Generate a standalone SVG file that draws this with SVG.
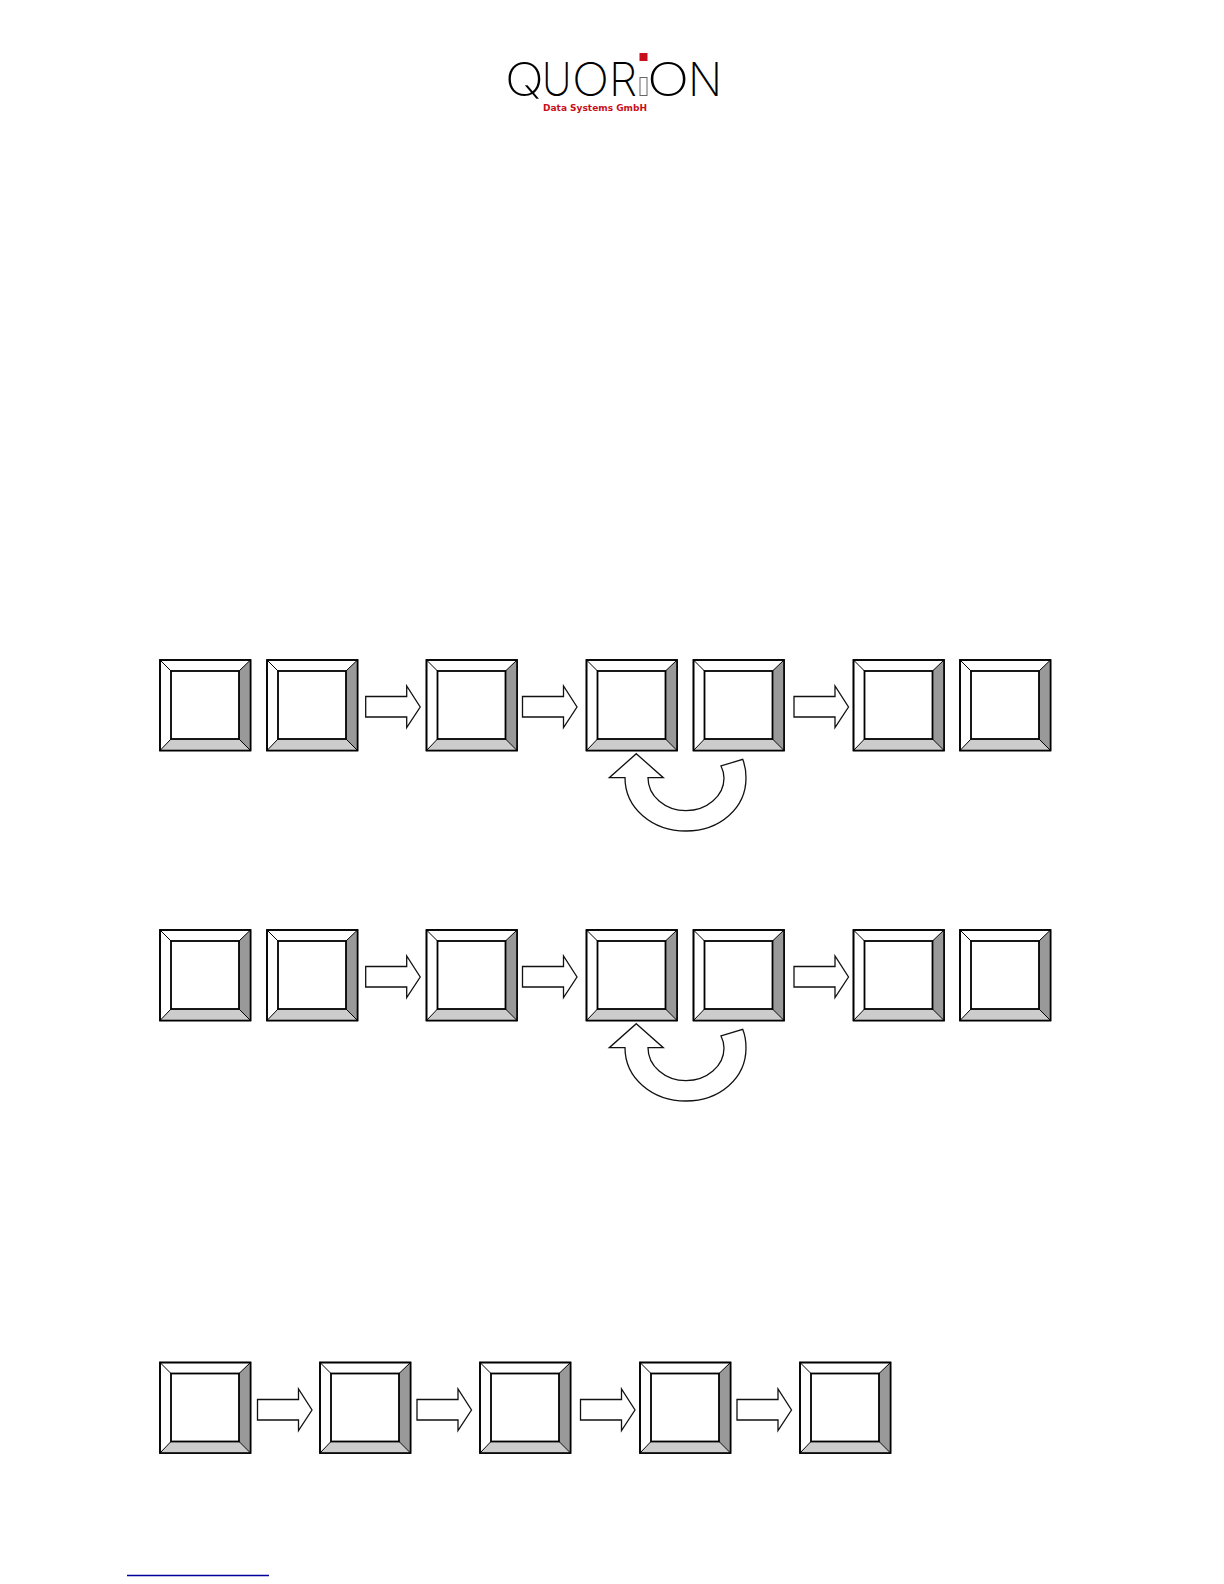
<svg xmlns="http://www.w3.org/2000/svg" xmlns:xlink="http://www.w3.org/1999/xlink" width="1224" height="1584" viewBox="0 0 1224 1584">
<style>
.o{fill:#fff;stroke:#000;stroke-width:1.6}
.i{fill:#fff;stroke:#000;stroke-width:1.8}
.d{stroke:#000;stroke-width:1;fill:none}
.a{fill:#fff;stroke:#111;stroke-width:1.3;stroke-linejoin:miter}
.logo{font-family:"Inter","Liberation Sans",sans-serif;font-weight:250;font-size:46px;fill:#000}
.sub{font-family:"DejaVu Sans","Liberation Sans",sans-serif;font-weight:700;font-size:9.5px;fill:#c8101c}
</style>
<defs>
<g id="key">
<rect class="o" x="0" y="0" width="90.5" height="90.5"/>
<polygon points="90.5,0 79,11 79,79 90.5,90.5" fill="#999"/>
<polygon points="0,90.5 11,79 79,79 90.5,90.5" fill="#ccc"/>
<rect x="0" y="0" width="90.5" height="90.5" fill="none" stroke="#000" stroke-width="1.6"/>
<path class="d" d="M0,0L11,11M90.5,0L79,11M0,90.5L11,79M90.5,90.5L79,79"/>
<rect class="i" x="11" y="11" width="68" height="68"/>
</g>
<polygon id="arr" class="a" points="0,10.5 41,10.5 41,0 54.5,21 41,41.5 41,31 0,31"/>
<path id="curve" class="a" d="M636.3,753.7L663.3,777.7L648,777.7C648,796 665,810.7 686,810.7C707,810.7 724,796 724,778C724,774 723,770 721,766L742.7,759.3C745,765 746,771 746,778C746,808 720,831 686,831C652,831 625,808 625,777.7L609.3,777.7Z"/>
</defs>
<g id="logo">
<text class="logo" transform="translate(505,96) scale(1.12,1)">Q</text>
<text class="logo" transform="translate(542,96) scale(0.88,1)">U</text>
<text class="logo" transform="translate(572,96) scale(1.07,1)">O</text>
<text class="logo" transform="translate(609,96) scale(0.98,1)">R</text>
<text class="logo" transform="translate(647,96) scale(1.22,1)">O</text>
<text class="logo" transform="translate(688,96) scale(0.97,1)">N</text>
<rect x="639.5" y="53" width="8" height="8" fill="#c8101c"/>
<rect x="640" y="77.5" width="7" height="18" fill="#fff" stroke="#666" stroke-width="1"/>
<text class="sub" x="543" y="111" textLength="104" lengthAdjust="spacingAndGlyphs">Data Systems GmbH</text>
</g>
<g id="row1-keys">
<g id="k1-1"><use href="#key" x="160" y="660"/></g>
<g id="k1-2"><use href="#key" x="267" y="660"/></g>
<g id="k1-3"><use href="#key" x="426.5" y="660"/></g>
<g id="k1-4"><use href="#key" x="586.5" y="660"/></g>
<g id="k1-5"><use href="#key" x="693.5" y="660"/></g>
<g id="k1-6"><use href="#key" x="853.5" y="660"/></g>
<g id="k1-7"><use href="#key" x="960" y="660"/></g>
</g>
<g id="row2-keys">
<g id="k2-1"><use href="#key" x="160" y="930"/></g>
<g id="k2-2"><use href="#key" x="267" y="930"/></g>
<g id="k2-3"><use href="#key" x="426.5" y="930"/></g>
<g id="k2-4"><use href="#key" x="586.5" y="930"/></g>
<g id="k2-5"><use href="#key" x="693.5" y="930"/></g>
<g id="k2-6"><use href="#key" x="853.5" y="930"/></g>
<g id="k2-7"><use href="#key" x="960" y="930"/></g>
</g>
<g id="row3-keys">
<g id="k3-1"><use href="#key" x="160" y="1362.5"/></g>
<g id="k3-2"><use href="#key" x="320" y="1362.5"/></g>
<g id="k3-3"><use href="#key" x="480" y="1362.5"/></g>
<g id="k3-4"><use href="#key" x="640" y="1362.5"/></g>
<g id="k3-5"><use href="#key" x="800" y="1362.5"/></g>
</g>
<g id="connectors">
<use href="#arr" x="365.7" y="686"/>
<use href="#arr" x="522.5" y="686"/>
<use href="#arr" x="794" y="686"/>
<use href="#curve"/>
<use href="#arr" x="365.7" y="956"/>
<use href="#arr" x="522.5" y="956"/>
<use href="#arr" x="794" y="956"/>
<use href="#curve" y="270"/>
<use href="#arr" x="257.5" y="1389"/>
<use href="#arr" x="417" y="1389"/>
<use href="#arr" x="580.5" y="1389"/>
<use href="#arr" x="737" y="1389"/>
</g>
<line id="footer-rule" x1="127" y1="1575.5" x2="269" y2="1575.5" stroke="#00009c" stroke-width="1.3"/>
</svg>
